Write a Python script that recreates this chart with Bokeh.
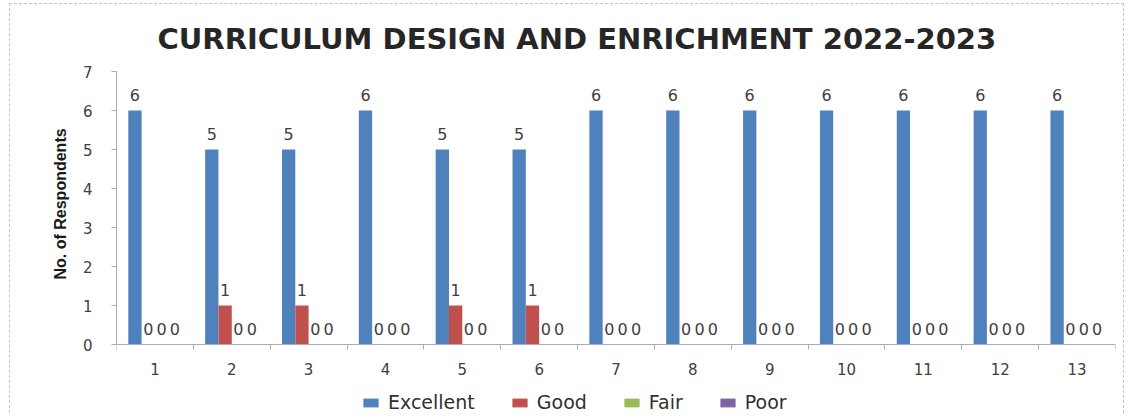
from bokeh.plotting import figure
from bokeh.models import ColumnDataSource, Range1d, FixedTicker, LabelSet, Legend, LegendItem, Title
from bokeh.transform import dodge
from bokeh.core.properties import value
from bokeh.embed import file_html
from bokeh.resources import INLINE

# ---- data ----
categories = [1, 2, 3, 4, 5, 6, 7, 8, 9, 10, 11, 12, 13]
excellent = [6, 5, 5, 6, 5, 5, 6, 6, 6, 6, 6, 6, 6]
good = [0, 1, 1, 0, 1, 1, 0, 0, 0, 0, 0, 0, 0]
fair = [0, 0, 0, 0, 0, 0, 0, 0, 0, 0, 0, 0, 0]
poor = [0, 0, 0, 0, 0, 0, 0, 0, 0, 0, 0, 0, 0]
series_names = ["Excellent", "Good", "Fair", "Poor"]
series_colors = ["#4F81BD", "#C0504D", "#9BBB59", "#8064A2"]
title_text = "CURRICULUM DESIGN AND ENRICHMENT 2022-2023"
y_title = "No. of Respondents"
y_ticks = [0, 1, 2, 3, 4, 5, 6, 7]

series_values = [excellent, good, fair, poor]
data = dict(cat=categories)
for name, vals in zip(series_names, series_values):
    data[name] = vals
    data[name + "_lbl"] = [str(v) for v in vals]
src = ColumnDataSource(data)

# extra room below zero holds the category labels and the legend
p = figure(frame_width=999, frame_height=342,
           x_range=Range1d(0.5, 13.5), y_range=Range1d(-1.769, 7),
           output_backend="svg", toolbar_location=None,
           min_border_left=106, min_border_top=62, min_border_right=8,
           min_border_bottom=0, background_fill_color="white",
           border_fill_color="white")
p.styles = {"margin-left": "9px", "margin-top": "3px",
            "border-left": "1px dashed #c4c4c4", "border-top": "1px dashed #c4c4c4",
            "border-right": "1px dashed #c4c4c4"}
p.outline_line_color = None
p.xgrid.visible = False
p.ygrid.visible = False

p.title.text = title_text
p.title.align = "left"
p.title.offset = 41
p.title.text_font = "DejaVu Sans"
p.title.text_font_style = "bold"
p.title.text_font_size = "29px"
p.title.text_color = "#262626"
p.title.standoff = 31

bar_w = 0.173
offsets = [-0.26, -0.0866, 0.0866, 0.26]
items = []
for name, col, off in zip(series_names, series_colors, offsets):
    r = p.vbar(x=dodge("cat", off), top=name, width=bar_w, source=src,
               fill_color=col, line_color=None)
    items.append(LegendItem(label=name, renderers=[r]))
    lbl = LabelSet(x=dodge("cat", off), y=name, text=name + "_lbl", source=src,
                   text_align="center", text_baseline="alphabetic", y_offset=10,
                   text_font=value("DejaVu Sans"), text_font_size="16px",
                   text_color="#404040")
    p.add_layout(lbl)

ax_col = "#a9a9c4"
ya = p.yaxis[0]
ya.ticker = FixedTicker(ticks=y_ticks)
ya.bounds = (y_ticks[0], y_ticks[-1])
ya.axis_line_color = ax_col
ya.major_tick_line_color = ax_col
ya.major_tick_out = 5
ya.major_tick_in = 0
ya.minor_tick_line_color = None
ya.major_label_standoff = 19
ya.major_label_text_font = "DejaVu Sans"
ya.major_label_text_font_size = "15px"
ya.major_label_text_color = "#404040"

# y-axis title, positioned alongside the 0..7 part of the axis
ytitle = Title(text=y_title, align="left", offset=134, standoff=22,
               text_font="Liberation Sans", text_font_style="bold",
               text_font_size="16px", text_color="#1a1a1a")
p.add_layout(ytitle, "left")

xa = p.xaxis[0]
xa.fixed_location = 0
xa.ticker = FixedTicker(ticks=categories, minor_ticks=[c - 0.5 for c in categories] + [categories[-1] + 0.5])
xa.axis_line_color = ax_col
xa.major_tick_line_color = None
xa.major_tick_out = 0
xa.major_tick_in = 0
xa.minor_tick_line_color = ax_col
xa.minor_tick_out = 5
xa.minor_tick_in = 0
xa.major_label_standoff = 13
xa.major_label_text_font = "DejaVu Sans"
xa.major_label_text_font_size = "15px"
xa.major_label_text_color = "#404040"

legend = Legend(items=items, orientation="horizontal", location=(245, 0),
                border_line_color=None, background_fill_alpha=0,
                glyph_width=19, glyph_height=11, label_standoff=8, spacing=35,
                padding=0, margin=0,
                label_text_font="DejaVu Sans", label_text_font_size="19px",
                label_text_color="#303030")
p.add_layout(legend)

open("out.html", "w").write(file_html(p, INLINE))
